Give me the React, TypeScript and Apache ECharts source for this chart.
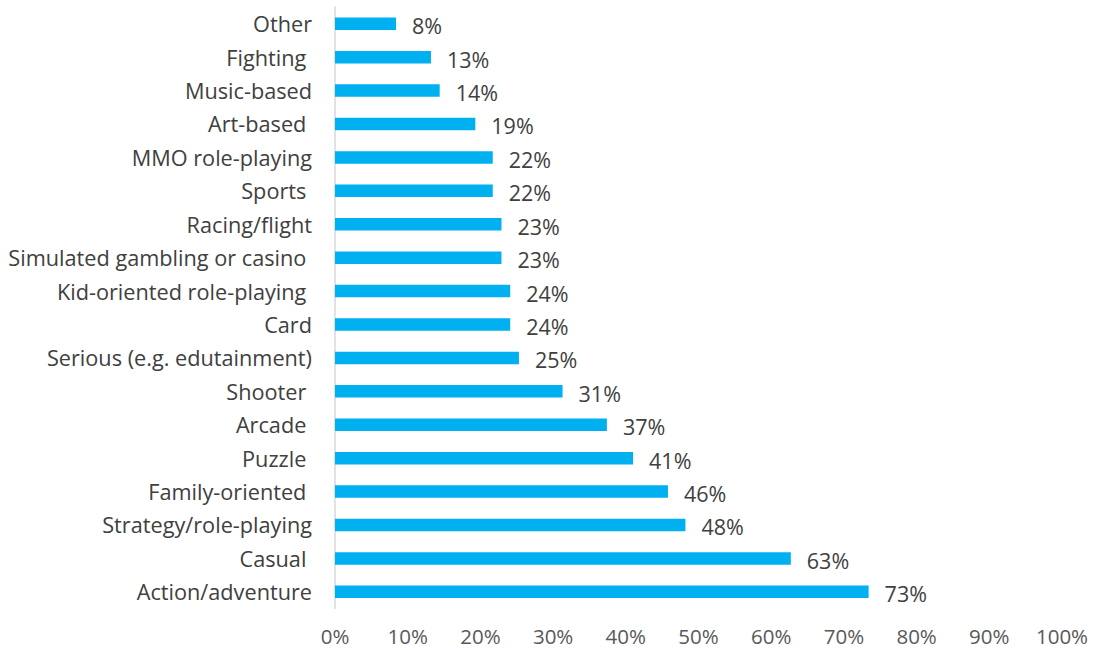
import React, { useEffect, useRef } from "react";
import * as echarts from "echarts";

const categories = [
  "Other",
  "Fighting ",
  "Music-based",
  "Art-based ",
  "MMO role-playing",
  "Sports ",
  "Racing/flight",
  "Simulated gambling or casino ",
  "Kid-oriented role-playing ",
  "Card",
  "Serious (e.g. edutainment)",
  "Shooter ",
  "Arcade ",
  "Puzzle ",
  "Family-oriented ",
  "Strategy/role-playing",
  "Casual ",
  "Action/adventure",
];

const values = [
  8.4, 13.2, 14.4, 19.3, 21.7, 21.7, 22.9, 22.9, 24.1, 24.1, 25.3, 31.3, 37.4,
  41.0, 45.8, 48.2, 62.7, 73.4,
];

export default function App() {
  const ref = useRef<HTMLDivElement>(null);
  useEffect(() => {
    if (!ref.current) return;
    const chart = echarts.init(ref.current, null, { renderer: "svg" });
    const font = "'Open Sans', sans-serif";
    chart.setOption({
      animation: false,
      backgroundColor: "#ffffff",
      grid: { left: 335, right: 33, top: 7, bottom: 41.5, containLabel: false },
      xAxis: {
        type: "value",
        min: 0,
        max: 100,
        interval: 10,
        axisLine: { show: false },
        axisTick: { show: false },
        splitLine: { show: false },
        axisLabel: {
          formatter: (v: number) => v + "%",
          color: "#595959",
          fontSize: 20.5,
          lineHeight: 18,
          fontFamily: font,
          margin: 18,
        },
      },
      yAxis: {
        type: "category",
        inverse: true,
        data: categories,
        axisLine: { show: true, lineStyle: { color: "#d9d9d9", width: 1.5 } },
        axisTick: { show: false },
        axisLabel: {
          color: "#404040",
          fontSize: 21.7,
          fontFamily: font,
          margin: 23,
        },
      },
      series: [
        {
          type: "bar",
          data: values,
          barWidth: 12.5,
          itemStyle: { color: "#00b0f0" },
          label: {
            show: true,
            position: "right",
            distance: 16,
            offset: [0, 2],
            formatter: (p: any) => Math.round(p.value) + "%",
            color: "#404040",
            fontSize: 21.5,
            fontFamily: font,
          },
        },
      ],
    });
    return () => chart.dispose();
  }, []);
  return (
    <div
      ref={ref}
      style={{ position: "absolute", left: 0, top: 0, width: 1095, height: 650 }}
    />
  );
}
